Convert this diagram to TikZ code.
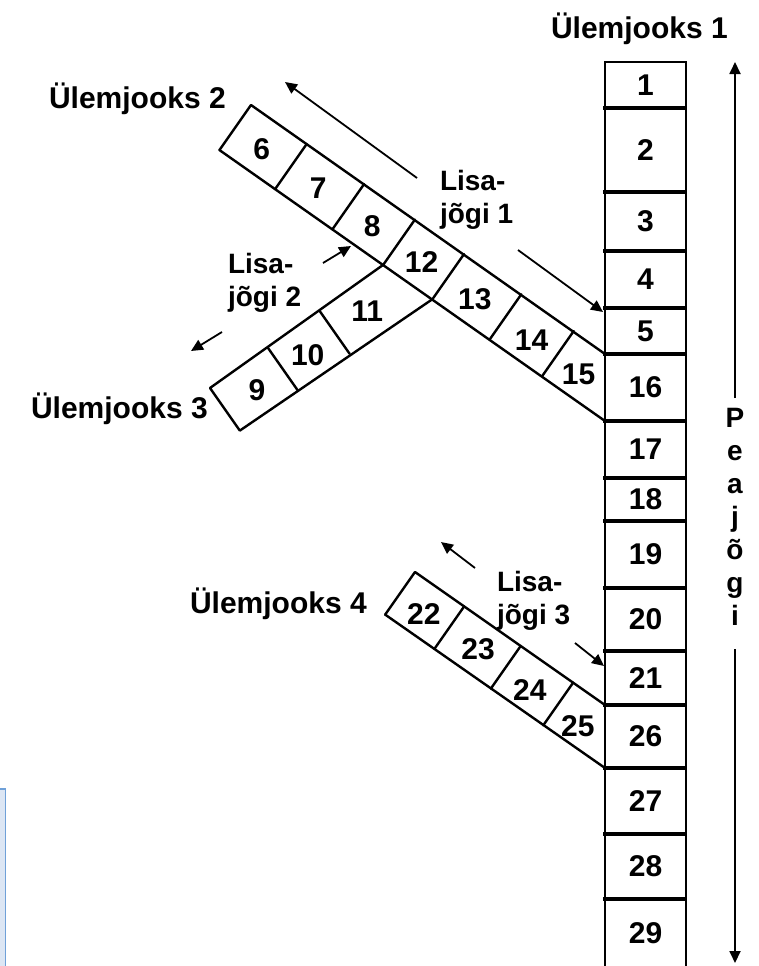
\documentclass[tikz,border=0pt]{standalone}
\usepackage{fontspec}
\setmainfont{Liberation Sans}
\usetikzlibrary{arrows.meta}
\definecolor{blueFill}{HTML}{DCE6F4}
\definecolor{blueLine}{HTML}{6FA0D8}
\begin{document}
\begin{tikzpicture}[x=1pt,y=-1pt,
  every node/.style={inner sep=0pt, outer sep=0pt},
  num/.style={font=\bfseries\fontsize{30}{33}\selectfont},
  cell/.style={num, draw, line width=2.2pt, minimum width=81pt, anchor=north},
  sepline/.style={line width=3.4pt},
  band/.style={line width=2.4pt, line join=round, line cap=round},
  ulem/.style={font=\bfseries\fontsize{30}{33}\selectfont, anchor=base west},
  lisa/.style={font=\bfseries\fontsize{28}{33}\selectfont, align=left, anchor=north west},
  arr/.style={line width=1.8pt, -{Triangle[width=11pt,length=12pt]}},
]
\useasboundingbox (0,0) rectangle (759,966);

% stray blue frame at lower left
\filldraw[fill=blueFill, draw=blueLine, line width=1.5pt] (-5,789) rectangle (5.5,975);

% main channel (column)
\node[cell, minimum height=46pt] (c1)  at (645.5,62)  {1};
\node[cell, minimum height=84pt] (c2)  at (645.5,108) {2};
\node[cell, minimum height=59pt] (c3)  at (645.5,192) {3};
\node[cell, minimum height=57pt] (c4)  at (645.5,251) {4};
\node[cell, minimum height=46pt] (c5)  at (645.5,308) {5};
\node[cell, minimum height=67pt] (c16) at (645.5,354) {16};
\node[cell, minimum height=57pt] (c17) at (645.5,421) {17};
\node[cell, minimum height=43pt] (c18) at (645.5,478) {18};
\node[cell, minimum height=67pt] (c19) at (645.5,521) {19};
\node[cell, minimum height=63pt] (c20) at (645.5,588) {20};
\node[cell, minimum height=54pt] (c21) at (645.5,651) {21};
\node[cell, minimum height=63pt] (c26) at (645.5,705) {26};
\node[cell, minimum height=66pt] (c27) at (645.5,768) {27};
\node[cell, minimum height=65pt] (c28) at (645.5,834) {28};
\node[cell, minimum height=69pt] (c29) at (645.5,899) {29};
\foreach \c in {c2,c3,c4,c5,c16,c17,c18,c19,c20,c21,c26,c27,c28,c29}
  \draw[sepline] ([xshift=-2pt]\c.north west) -- (\c.north east);

% band 1 (Ülemjooks 2 -> main)
\begin{scope}[shift={(251,105)}, rotate=-35]
  \coordinate (b1s) at (0,0);
  \coordinate (b1t) at (0,55);
  \coordinate (j1) at (200,55);
  \coordinate (j2) at (260,55);
  \foreach \s in {68,138,200,260,330,394} \draw[band] (\s,0) -- (\s,55);
  \node[num] (n6)  at (34,30)  {6};
  \node[num] (n7)  at (103,30) {7};
  \node[num] (n8)  at (169,30) {8};
  \node[num] (n12) at (230,31) {12};
  \node[num] (n13) at (295,31) {13};
  \node[num] (n14) at (365,32) {14};
  \node[num] (n15) at (423,33) {15};
\end{scope}
\draw[band] (b1t) -- (b1s) -- (c16.north west);
\draw[band] (b1t) -- (c16.south west);

% band 2 (Ülemjooks 3 -> band 1)
\begin{scope}[shift={(210,388)}, rotate=35]
  \coordinate (b2s) at (0,0);
  \coordinate (b2t) at (0,52);
  \foreach \s in {70.5,134} \draw[band] (\s,0) -- (\s,52);
  \node[num] (n9)  at (37,29)  {9};
  \node[num] (n10) at (99,29)  {10};
  \node[num] (n11) at (173,27) {11};
\end{scope}
\draw[band] (j1) -- (b2s) -- (b2t) -- (j2);

% band 3 (Ülemjooks 4 -> main)
\begin{scope}[shift={(415,572)}, rotate=-35]
  \coordinate (b3s) at (0,0);
  \coordinate (b3t) at (0,52);
  \foreach \s in {60,129,193} \draw[band] (\s,0) -- (\s,52);
  \node[num] (n22) at (31,29)  {22};
  \node[num] (n23) at (96,27)  {23};
  \node[num] (n24) at (162,31) {24};
  \node[num] (n25) at (222,33) {25};
\end{scope}
\draw[band] (b3t) -- (b3s) -- (c26.north west);
\draw[band] (b3t) -- (c26.south west);

% labels
\node[ulem] (u1) at (551,38)  {Ülemjooks 1};
\node[ulem] (u2) at (49,108)  {Ülemjooks 2};
\node[ulem] (u3) at (31,418)  {Ülemjooks 3};
\node[ulem] (u4) at (190,613) {Ülemjooks 4};

\node[lisa] (lj1) at (440,170) {Lisa-\\jõgi 1};
\node[lisa] (lj2) at (228,253) {Lisa-\\jõgi 2};
\node[lisa] (lj3) at (497,571) {Lisa-\\jõgi 3};

% flow arrows
\coordinate (a1s) at (417,178); \coordinate (a1e) at (285,82);
\coordinate (a2s) at (518,250); \coordinate (a2e) at (603,312);
\coordinate (a3s) at (323,263); \coordinate (a3e) at (351,246);
\coordinate (a4s) at (222,332); \coordinate (a4e) at (191,351);
\coordinate (a5s) at (475,568); \coordinate (a5e) at (441,542);
\coordinate (a6s) at (575,643); \coordinate (a6e) at (604,666);
\draw[arr] (a1s) -- (a1e);
\draw[arr] (a2s) -- (a2e);
\draw[arr] (a3s) -- (a3e);
\draw[arr] (a4s) -- (a4e);
\draw[arr] (a5s) -- (a5e);
\draw[arr] (a6s) -- (a6e);

% Peajõgi axis
\node[font=\bfseries\fontsize{28}{33}\selectfont, align=center, anchor=north] (pj) at (735,408) {P\\e\\a\\j\\õ\\g\\i};
\coordinate (pjtop) at (735,62);
\coordinate (pjbot) at (735,963);
\draw[arr] ([yshift=10pt]pj.north) -- (pjtop);
\draw[arr] ([yshift=-24pt]pj.south) -- (pjbot);
\end{tikzpicture}
\end{document}
